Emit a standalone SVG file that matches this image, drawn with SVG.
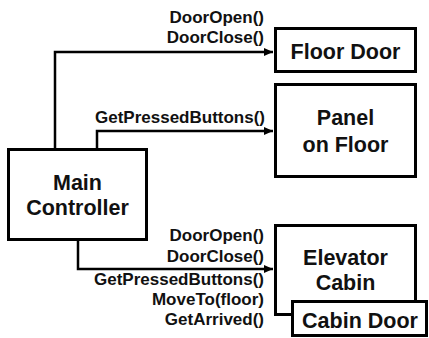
<svg xmlns="http://www.w3.org/2000/svg" width="429" height="338" viewBox="0 0 429 338">
  <style>
    .box { fill: #ffffff; stroke: #000000; stroke-width: 3; }
    .node { font-family: "Liberation Sans", Arial, sans-serif; font-weight: bold; font-size: 21.5px; fill: #111111; text-anchor: middle; }
    .lbl { font-family: "Liberation Sans", Arial, sans-serif; font-weight: bold; font-size: 17px; fill: #111111; text-anchor: end; }
    .conn { fill: none; stroke: #000000; stroke-width: 2.5; }
  </style>
  <defs>
    <marker id="arr" markerUnits="userSpaceOnUse" markerWidth="10" markerHeight="10" refX="9" refY="4" orient="auto">
      <path d="M0,0 L9,4 L0,8 Z" fill="#000000"/>
    </marker>
  </defs>
  <rect width="429" height="338" fill="#ffffff"/>
  <g id="connectors">
    <path class="conn" d="M55,148 V52 H273" marker-end="url(#arr)"/>
    <path class="conn" d="M97,148 V131 H273" marker-end="url(#arr)"/>
    <path class="conn" d="M78,240 V269 H273" marker-end="url(#arr)"/>
    <text class="lbl" x="264" y="23">DoorOpen()</text>
    <text class="lbl" x="264" y="43">DoorClose()</text>
    <text class="lbl" x="265" y="123">GetPressedButtons()</text>
    <text class="lbl" x="264" y="241">DoorOpen()</text>
    <text class="lbl" x="264" y="262">DoorClose()</text>
    <text class="lbl" x="264" y="285">GetPressedButtons()</text>
    <text class="lbl" x="264" y="305">MoveTo(floor)</text>
    <text class="lbl" x="264" y="325">GetArrived()</text>
  </g>
  <g id="floor-door">
    <rect class="box" x="275.5" y="28.5" width="140" height="43"/>
    <text class="node" x="345.5" y="59">Floor Door</text>
  </g>
  <g id="panel-on-floor">
    <rect class="box" x="275.5" y="84.5" width="140" height="92"/>
    <text class="node" x="345.5" y="125">Panel</text>
    <text class="node" x="345.5" y="152">on Floor</text>
  </g>
  <g id="main-controller">
    <rect class="box" x="8.5" y="149.5" width="138" height="90"/>
    <text class="node" x="77.5" y="190">Main</text>
    <text class="node" x="77.5" y="215">Controller</text>
  </g>
  <g id="elevator-cabin">
    <rect class="box" x="275.5" y="225.5" width="140" height="89"/>
    <text class="node" x="345.5" y="265">Elevator</text>
    <text class="node" x="345.5" y="290">Cabin</text>
  </g>
  <g id="cabin-door">
    <rect class="box" x="292.5" y="301.5" width="134" height="34"/>
    <text class="node" x="360" y="328">Cabin Door</text>
  </g>
</svg>
